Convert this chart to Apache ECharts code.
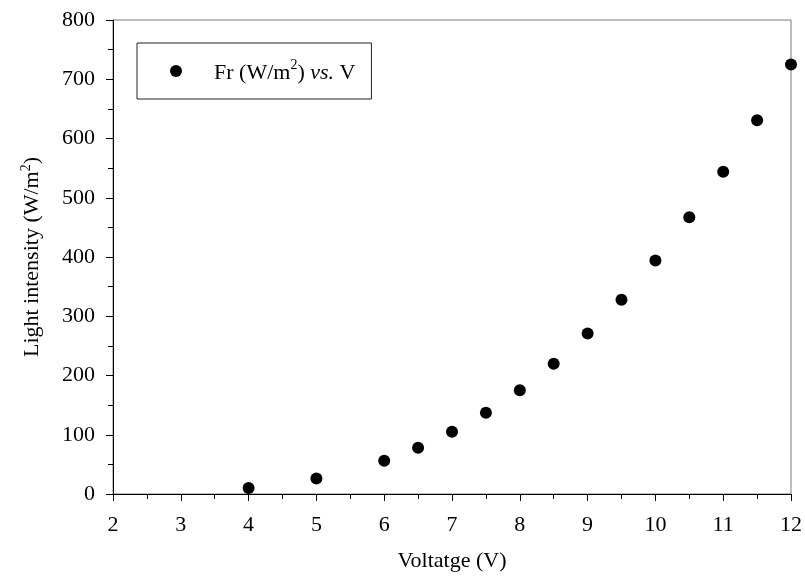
<!DOCTYPE html>
<html>
<head>
<meta charset="utf-8">
<script src="https://cdn.jsdelivr.net/npm/echarts@6/dist/echarts.min.js"></script>
<style>
html,body{margin:0;padding:0;background:#fff;}
#chart{width:805px;height:583px;}
</style>
</head>
<body>
<div id="chart"></div>
<script>
const voltage = [4, 5, 6, 6.5, 7, 7.5, 8, 8.5, 9, 9.5, 10, 10.5, 11, 11.5, 12];
const intensity = [10, 26, 56, 78, 105, 137, 175, 220, 271, 328, 394, 467, 544, 631, 725];
const xTicks = [2, 3, 4, 5, 6, 7, 8, 9, 10, 11, 12];
const yTicks = [0, 100, 200, 300, 400, 500, 600, 700, 800];
const seriesName = 'Fr vs V';

const FONT = '"Liberation Serif", "Times New Roman", serif';
const chart = echarts.init(document.getElementById('chart'), null, {renderer: 'canvas'});
const richText = {
  n: {fontFamily: FONT, fontSize: 22, color: '#000', lineHeight: 26, verticalAlign: 'bottom'},
  sup: {fontFamily: FONT, fontSize: 14, color: '#000', lineHeight: 26, verticalAlign: 'top'},
  it: {fontFamily: FONT, fontSize: 22, color: '#000', fontStyle: 'italic', lineHeight: 26, verticalAlign: 'bottom'}
};
const points = voltage.map((v, i) => [v, intensity[i]]);

chart.setOption({
  animation: false,
  backgroundColor: '#fff',
  grid: {left: 113, right: 14, top: 20, bottom: 89, show: true, borderColor: '#7a7a7a', borderWidth: 1, backgroundColor: 'transparent'},
  legend: {
    left: 137, top: 43,
    data: [seriesName],
    icon: 'circle',
    itemWidth: 66, itemHeight: 12,
    padding: [15, 16, 15, 33],
    borderColor: '#222', borderWidth: 1,
    formatter: () => '{n|Fr (W/m}{sup|2}{n|)} {it|vs.}{n| V}',
    textStyle: {fontFamily: FONT, fontSize: 22, color: '#000', rich: richText}
  },
  xAxis: {
    type: 'value', min: xTicks[0], max: xTicks[xTicks.length - 1], interval: 1,
    name: 'Voltatge (V)', nameLocation: 'middle', nameGap: 56,
    nameTextStyle: {fontFamily: FONT, fontSize: 22, color: '#000'},
    axisLine: {show: true, onZero: false, lineStyle: {color: '#000', width: 1}},
    axisTick: {show: true, inside: false, length: 7, lineStyle: {color: '#000'}},
    minorTick: {show: true, splitNumber: 2, length: 5, lineStyle: {color: '#000'}},
    axisLabel: {fontFamily: FONT, fontSize: 22, color: '#000', margin: 20},
    splitLine: {show: false}
  },
  yAxis: {
    type: 'value', min: yTicks[0], max: yTicks[yTicks.length - 1], interval: 100,
    name: 'Light intensity (W/m{sup|2})', nameLocation: 'middle', nameGap: 68,
    nameTextStyle: {fontFamily: FONT, fontSize: 22, color: '#000', rich: richText},
    axisLine: {show: true, onZero: false, lineStyle: {color: '#000', width: 1}},
    axisTick: {show: true, inside: false, length: 7, lineStyle: {color: '#000'}},
    minorTick: {show: true, splitNumber: 2, length: 5, lineStyle: {color: '#000'}},
    axisLabel: {fontFamily: FONT, fontSize: 22, color: '#000', margin: 18},
    splitLine: {show: false}
  },
  series: [{
    name: seriesName,
    type: 'scatter',
    data: points,
    symbol: 'circle',
    symbolSize: 12,
    clip: false,
    itemStyle: {color: '#000', opacity: 1}
  }]
});
</script>
</body>
</html>
